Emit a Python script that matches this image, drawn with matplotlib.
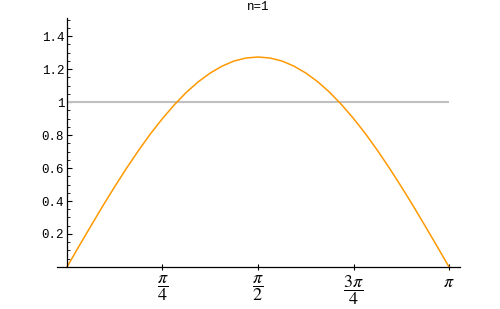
import matplotlib
matplotlib.use('Agg')
import matplotlib.pyplot as plt
from matplotlib.ticker import MultipleLocator, FixedLocator
import numpy as np

x_over_pi = [k / 32 for k in range(33)]
y_vals = [0.000, 0.125, 0.248, 0.370, 0.487, 0.600, 0.707, 0.808, 0.900,
          0.984, 1.059, 1.123, 1.176, 1.218, 1.249, 1.267, 1.273,
          1.267, 1.249, 1.218, 1.176, 1.123, 1.059, 0.984, 0.900,
          0.808, 0.707, 0.600, 0.487, 0.370, 0.248, 0.125, 0.000]
ref_level = 1.0

x_ticks = [np.pi / 4, np.pi / 2, 3 * np.pi / 4, np.pi]
x_labels = [r'$\dfrac{\pi}{4}$', r'$\dfrac{\pi}{2}$', r'$\dfrac{3\pi}{4}$', r'$\pi$']
y_ticks = [0.2, 0.4, 0.6, 0.8, 1.0, 1.2, 1.4]
y_labels = ['0.2', '0.4', '0.6', '0.8', '1', '1.2', '1.4']

plt.rcParams['mathtext.fontset'] = 'stix'
mono = 'Liberation Mono'

fig = plt.figure(figsize=(5, 3.09), dpi=100)
ax = fig.add_axes([0.114, 0.136, 0.806, 0.806])

x = np.pi * np.array(x_over_pi)
ax.plot([0, np.pi], [ref_level, ref_level], color='#c0c0c0', lw=1.5,
        solid_capstyle='butt')
ax.plot(x, y_vals, color='#ff9900', lw=1.1)

ax.set_xlim(-0.082, np.pi + 0.09)
ax.set_ylim(0, 1.51)

for s in ['top', 'right']:
    ax.spines[s].set_visible(False)
ax.spines['left'].set_position(('data', 0))
ax.spines['bottom'].set_position(('data', 0))
for s in ['left', 'bottom']:
    ax.spines[s].set_linewidth(0.9)

ax.xaxis.set_major_locator(FixedLocator(x_ticks))
ax.set_xticklabels(x_labels, fontsize=13)
ax.tick_params(axis='x', direction='inout', length=4, width=0.8, pad=2.5)

ax.yaxis.set_major_locator(FixedLocator(y_ticks))
ax.yaxis.set_minor_locator(MultipleLocator(0.05))
ax.set_yticklabels(y_labels, fontsize=9, family=mono)
ax.tick_params(axis='y', which='major', direction='in', length=3.5, width=0.8, pad=2)
ax.tick_params(axis='y', which='minor', direction='in', length=2, width=0.6)

ax.set_title('n=1', fontsize=9, family=mono, pad=6)

fig.savefig('out.png', dpi=100)
